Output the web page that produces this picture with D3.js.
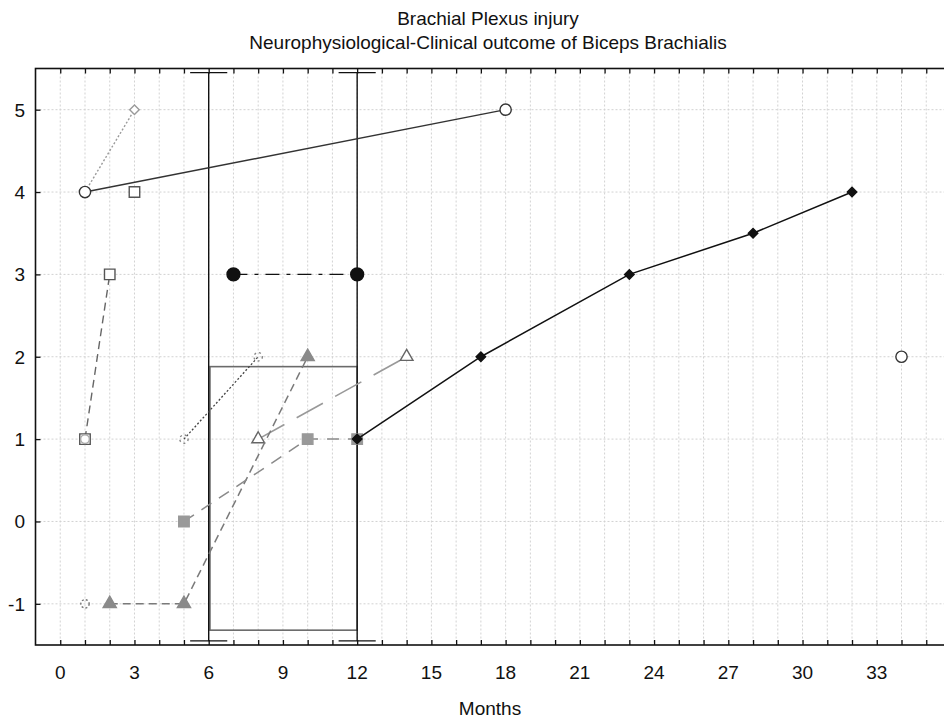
<!DOCTYPE html>
<html>
<head>
<meta charset="utf-8">
<script src="https://cdn.jsdelivr.net/npm/d3@7"></script>
<style>
  body { margin: 0; background: #fff; }
  text { font-family: "Liberation Sans", Arial, sans-serif; fill: #111; }
</style>
</head>
<body>
<div id="my_dataviz"></div>
<script>
//data: months after injury vs clinical score, one array per patient

var monthTicks = [0, 3, 6, 9, 12, 15, 18, 21, 24, 27, 30, 33];
var scoreTicks = [-1, 0, 1, 2, 3, 4, 5];

var patientA = [[1, 4], [18, 5]];
var patientB = [[1, 4], [3, 5]];
var patientC = [[3, 4]];
var patientD = [[1, 1], [2, 3]];
var patientE = [[7, 3], [12, 3]];
var patientF = [[12, 1], [17, 2], [23, 3], [28, 3.5], [32, 4]];
var patientG = [[5, 0], [10, 1], [12, 1]];
var patientH = [[2, -1], [5, -1], [10, 2]];
var patientI = [[8, 1], [14, 2]];
var patientJ = [[5, 1], [8, 2]];
var patientK = [[1, -1]];
var patientL = [[34, 2]];
var patientM = [[1, 1]];

//window markers at 6 and 12 months, and the grey box between them
var windowMonths = [6, 12];
var windowRange = [-1.45, 5.45];
var boxMonths = [6.05, 12];
var boxScores = [-1.32, 1.88];

var width = 944, height = 724;

var svg = d3.select("#my_dataviz")
  .append("svg")
    .attr("width", width)
    .attr("height", height);

var x = d3.scaleLinear().domain([-1, 36]).range([35.5, 951]);
var y = d3.scaleLinear().domain([-1.5, 5.5]).range([645, 68.5]);

//grid lines
var months = d3.range(0, 36);
svg.append("g")
  .selectAll("line")
  .data(months)
  .enter().append("line")
    .attr("x1", function(d) { return x(d); })
    .attr("x2", function(d) { return x(d); })
    .attr("y1", y(5.5))
    .attr("y2", y(-1.5))
    .attr("stroke", "#d2d2d2")
    .attr("stroke-dasharray", "2,2");

svg.append("g")
  .selectAll("line")
  .data(scoreTicks)
  .enter().append("line")
    .attr("x1", x(-1))
    .attr("x2", x(36))
    .attr("y1", function(d) { return y(d); })
    .attr("y2", function(d) { return y(d); })
    .attr("stroke", "#d2d2d2")
    .attr("stroke-dasharray", "2,2");

//axes with inward ticks
svg.append("g")
  .attr("transform", "translate(0," + y(-1.5) + ")")
  .call(d3.axisTop(x).tickValues(months).tickSize(5).tickFormat(""))
  .call(function(g) { g.select(".domain").remove(); });

svg.append("g")
  .attr("transform", "translate(0," + y(5.5) + ")")
  .call(d3.axisBottom(x).tickValues(months).tickSize(5).tickFormat(""))
  .call(function(g) { g.select(".domain").remove(); });

svg.append("g")
  .attr("transform", "translate(" + x(-1) + ",0)")
  .call(d3.axisRight(y).tickValues(scoreTicks).tickSize(5).tickFormat(""))
  .call(function(g) { g.select(".domain").remove(); });

svg.selectAll(".tick line").attr("stroke", "#111").attr("stroke-width", 1.3);

//frame
svg.append("rect")
  .attr("x", x(-1))
  .attr("y", y(5.5))
  .attr("width", x(36) - x(-1))
  .attr("height", y(-1.5) - y(5.5))
  .attr("fill", "none")
  .attr("stroke", "#111")
  .attr("stroke-width", 1.6);

//tick labels
svg.append("g")
  .selectAll("text")
  .data(monthTicks)
  .enter().append("text")
    .attr("x", function(d) { return x(d); })
    .attr("y", 679)
    .style("text-anchor", "middle")
    .style("font-size", "19px")
    .text(function(d) { return d; });

svg.append("g")
  .selectAll("text")
  .data(scoreTicks)
  .enter().append("text")
    .attr("x", 25)
    .attr("y", function(d) { return y(d) + 7; })
    .style("text-anchor", "end")
    .style("font-size", "19px")
    .text(function(d) { return d; });

//titles
svg.append("text")
  .attr("x", 488).attr("y", 25)
  .style("text-anchor", "middle")
  .style("font-size", "19px")
  .text("Brachial Plexus injury");

svg.append("text")
  .attr("x", 488).attr("y", 49)
  .style("text-anchor", "middle")
  .style("font-size", "19px")
  .text("Neurophysiological-Clinical outcome of Biceps Brachialis");

svg.append("text")
  .attr("x", 490).attr("y", 715)
  .style("text-anchor", "middle")
  .style("font-size", "19px")
  .text("Months");

//box between 6 and 12 months
svg.append("rect")
  .attr("x", x(boxMonths[0]))
  .attr("y", y(boxScores[1]))
  .attr("width", x(boxMonths[1]) - x(boxMonths[0]))
  .attr("height", y(boxScores[0]) - y(boxScores[1]))
  .attr("fill", "none")
  .attr("stroke", "#6a6a6a")
  .attr("stroke-width", 1.6);

//vertical window lines with caps
var win = svg.append("g")
  .selectAll("g")
  .data(windowMonths)
  .enter().append("g");

win.append("line")
  .attr("x1", function(d) { return x(d); })
  .attr("x2", function(d) { return x(d); })
  .attr("y1", y(windowRange[0]))
  .attr("y2", y(windowRange[1]))
  .attr("stroke", "#111")
  .attr("stroke-width", 1.4);

windowRange.forEach(function(v) {
  win.append("line")
    .attr("x1", function(d) { return x(d - 0.75); })
    .attr("x2", function(d) { return x(d + 0.75); })
    .attr("y1", y(v))
    .attr("y2", y(v))
    .attr("stroke", "#111")
    .attr("stroke-width", 1.4);
});

//series drawing
var line = d3.line()
  .x(function(d) { return x(d[0]); })
  .y(function(d) { return y(d[1]); });

// diamonds are squares turned 45 degrees
var series = [
  {data: patientB, stroke: "#9a9a9a", dash: "2,2", w: 1.4, shape: d3.symbolSquare, size: 45, rot: 45, fill: "#fff", mstroke: "#9a9a9a"},
  {data: patientA, stroke: "#333", dash: null, w: 1.4, shape: d3.symbolCircle, size: 100, fill: "#fff", mstroke: "#333"},
  {data: patientC, stroke: "#555", dash: null, w: 1.4, shape: d3.symbolSquare, size: 110, fill: "#fff", mstroke: "#555"},
  {data: patientD, stroke: "#666", dash: "8,5", w: 1.4, shape: d3.symbolSquare, size: 110, fill: "#fff", mstroke: "#555"},
  {data: patientM, stroke: "#aaa", dash: null, w: 1.2, shape: d3.symbolCircle, size: 60, fill: "none", mstroke: "#aaa"},
  {data: patientJ, stroke: "#444", dash: "2,2", w: 1.3, shape: d3.symbolCircle, size: 55, fill: "none", mstroke: "#888", mdash: "2,3"},
  {data: patientK, stroke: "#444", dash: "2,2", w: 1.3, shape: d3.symbolCircle, size: 55, fill: "none", mstroke: "#777", mdash: "2,2"},
  {data: patientI, stroke: "#999", dash: "30,14", w: 1.6, shape: d3.symbolTriangle, size: 70, fill: "#fff", mstroke: "#666"},
  {data: patientH, stroke: "#7a7a7a", dash: "8,5", w: 1.5, shape: d3.symbolTriangle, size: 75, fill: "#8a8a8a", mstroke: "#8a8a8a"},
  {data: patientG, stroke: "#8a8a8a", dash: "12,9", w: 1.5, shape: d3.symbolSquare, size: 110, fill: "#999", mstroke: "#999"},
  {data: patientE, stroke: "#111", dash: "14,7,4,7", w: 1.4, shape: d3.symbolCircle, size: 130, fill: "#111", mstroke: "#111"},
  {data: patientF, stroke: "#111", dash: null, w: 1.5, shape: d3.symbolSquare, size: 45, rot: 45, fill: "#111", mstroke: "#111"},
  {data: patientL, stroke: "#333", dash: null, w: 1.4, shape: d3.symbolCircle, size: 100, fill: "#fff", mstroke: "#333"}
];

series.forEach(function(s) {
  if (s.data.length > 1) {
    svg.append("path")
      .datum(s.data)
      .attr("d", line)
      .attr("fill", "none")
      .attr("stroke", s.stroke)
      .attr("stroke-width", s.w)
      .attr("stroke-dasharray", s.dash);
  }
  svg.append("g")
    .selectAll("path")
    .data(s.data)
    .enter().append("path")
      .attr("transform", function(d) { return "translate(" + x(d[0]) + "," + y(d[1]) + ") rotate(" + (s.rot || 0) + ")"; })
      .attr("d", d3.symbol().type(s.shape).size(s.size))
      .attr("fill", s.fill)
      .attr("stroke", s.mstroke)
      .attr("stroke-width", 1.4)
      .attr("stroke-dasharray", s.mdash || null);
});
</script>
</body>
</html>
